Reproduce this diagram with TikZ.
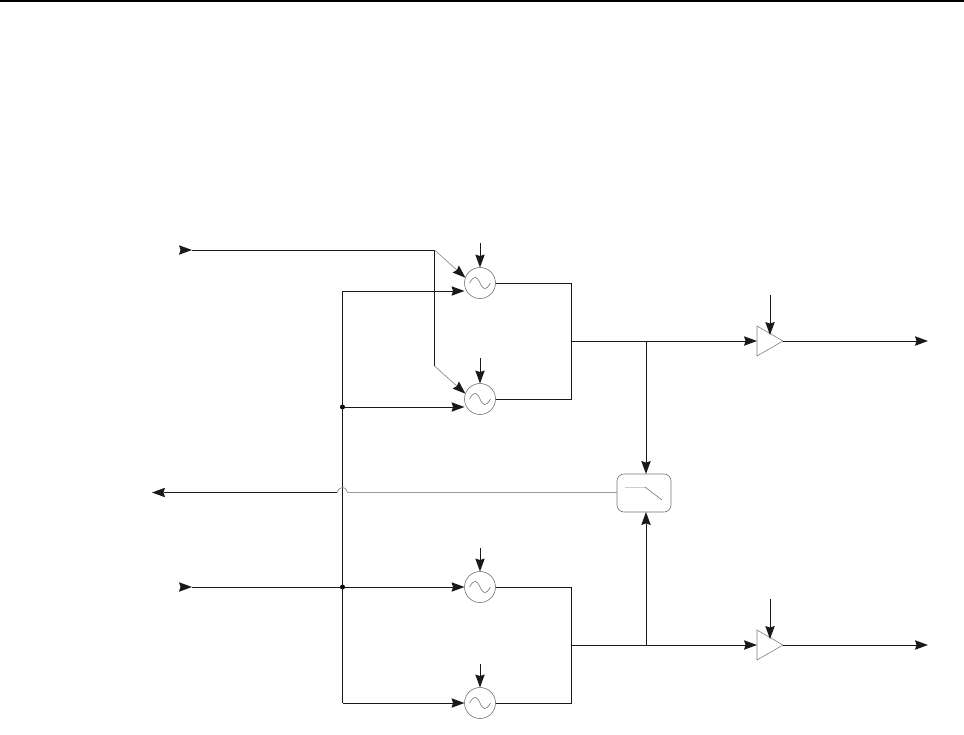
\documentclass[tikz,border=0pt]{standalone}
\usetikzlibrary{arrows.meta,shapes.geometric,calc}
\tikzset{
  sig/.style={line width=.95pt,black!90},
  thin gray/.style={line width=.6pt,black!50},
  arr/.style={-{Stealth[length=13pt,width=9.5pt,inset=1.5pt,color=black!90,fill=black!90,line width=0pt]}},
  inhead/.style={{Stealth[length=13pt,width=9.5pt,inset=1.5pt,reversed,color=black!90,fill=black!90,line width=0pt]}-},
  mixer/.style={circle,draw=black!55,line width=.6pt,minimum size=31pt,inner sep=0pt,outer sep=0pt},
  ampbox/.style={regular polygon,regular polygon sides=3,shape border rotate=-90,draw=black!50,line width=.6pt,minimum size=34.6pt,inner sep=0pt,outer sep=0pt},
  filterbox/.style={rectangle,rounded corners=7pt,draw=black!55,line width=.6pt,minimum width=54pt,minimum height=38pt,inner sep=0pt,outer sep=0pt},
  dotn/.style={circle,fill=black,inner sep=0pt,minimum size=5pt},
  glyph/.style={line width=.6pt,black!55}
}
\newcommand{\sinewave}[1]{\draw[glyph] ($(#1.center)+(-10.5,0)$) .. controls ($(#1.center)+(-6,-8)$) and ($(#1.center)+(-3,-7)$) .. (#1.center) .. controls ($(#1.center)+(3,7)$) and ($(#1.center)+(6,8)$) .. ($(#1.center)+(10.5,0)$);}
\begin{document}
\begin{tikzpicture}[x=1pt,y=-1pt]
\useasboundingbox (0,0) rectangle (964,734);
\coordinate (tl) at (0,1); \coordinate (tr) at (964,1);
\draw[line width=1.3pt,black] (tl) -- (tr);

\node[mixer] (m1) at (480,283) {};
\node[mixer] (m2) at (480,399) {};
\node[mixer] (m3) at (480,587) {};
\node[mixer] (m4) at (480,703) {};
\sinewave{m1}\sinewave{m2}\sinewave{m3}\sinewave{m4}

\node[ampbox,anchor=west] (a1) at (757,341) {};
\node[ampbox,anchor=west] (a2) at (757,645) {};
\coordinate (a1in) at (757,341); \coordinate (a2in) at (757,645);
\coordinate (a1tip) at (783,341); \coordinate (a2tip) at (783,645);
\coordinate (a1top) at (770,335); \coordinate (a2top) at (770,639);

\node[filterbox] (f) at (644,493) {};
\draw[line width=1pt,black!20] (625,487) coordinate (g0) -- (645,487) coordinate (g1);
\draw[glyph] (g1) -- (662,500);

% inputs
\coordinate (i1) at (179,250);
\coordinate (b1) at (434.5,250);
\coordinate (b2) at (434.5,366);
\draw[sig,inhead] (i1) -- (b1);
\draw[sig] (b1) -- (b2);
\draw[thin gray,arr] (b1) -- (m1.160);
\draw[thin gray,arr] (b2) -- (m2.160);

\coordinate (i2) at (179,587);
\coordinate (v0) at (342.5,291);
\coordinate (v1) at (342.5,703);
\node[dotn] (d1) at (342.5,407) {};
\node[dotn] (d2) at (342.5,587) {};
\draw[sig,inhead] (i2) -- (d2);
\draw[sig,arr] (d2) -- (m3.west);
\draw[sig,arr] (d1) -- (m2.west |- d1);
\draw[sig,arr] (v1) -- (m4.west);
\draw[sig,arr] (v0) -- (m1.west |- v0);
\draw[sig] (v0) -- (v1);

% mixer controls
\foreach \m/\xx/\yy in {m1/480/243,m2/480/358,m3/480/548,m4/480/664}{
  \coordinate (c\m) at (\xx,\yy);
  \draw[sig,arr] (c\m) -- (\m.north);
}

% combiners
\coordinate (s1a) at (571,283); \coordinate (s1b) at (571,399); \coordinate (s1c) at (571,341);
\coordinate (s2a) at (571,587); \coordinate (s2b) at (571,703); \coordinate (s2c) at (571,645);
\draw[sig] (m1.east) -- (s1a) -- (s1b) -- (m2.east);
\draw[sig] (m3.east) -- (s2a) -- (s2b) -- (m4.east);
\draw[sig,arr] (s1c) -- (a1in);
\draw[sig,arr] (s2c) -- (a2in);
\coordinate (t1) at (646,341); \coordinate (t2) at (646,645);
\draw[sig,arr] (t1) -- (t1 |- f.north);
\draw[sig,arr] (t2) -- (t2 |- f.south);

% amplifier controls and outputs
\coordinate (ca1) at (770,295); \coordinate (ca2) at (770,599);
\draw[sig,arr] (ca1) -- (a1top);
\draw[sig,arr] (ca2) -- (a2top);
\coordinate (o1) at (928,341); \coordinate (o2) at (928,645);
\draw[sig,arr] (a1tip) -- (o1);
\draw[sig,arr] (a2tip) -- (o2);

% detector output with line jump
\coordinate (o3) at (152,492.5);
\coordinate (j0) at (337,492.5);
\coordinate (j1) at (347.5,492.5);
\draw[sig,arr] (j0) -- (o3);
\draw[thin gray] (j0) .. controls (339.5,488) and (340,487.5) .. (342.5,487.5) .. controls (345,487.5) and (345.5,488) .. (j1);
\draw[line width=.8pt,black!40] (j1) -- (f.west |- j1);
\end{tikzpicture}
\end{document}
